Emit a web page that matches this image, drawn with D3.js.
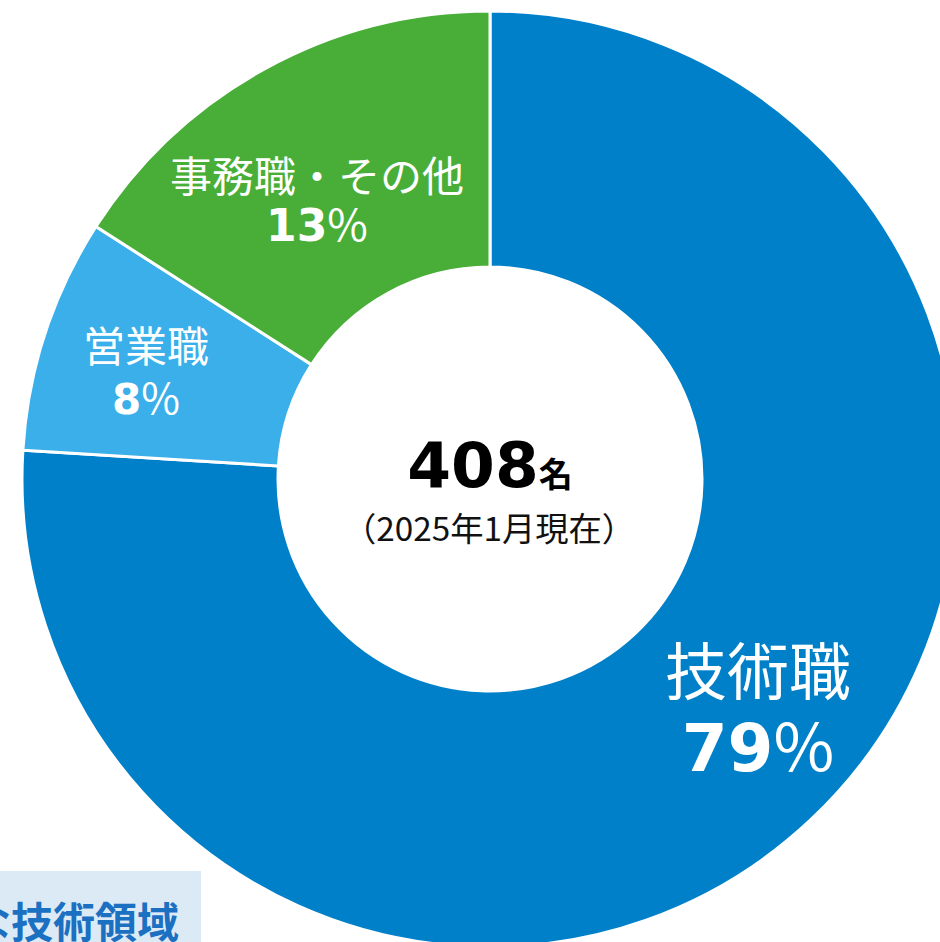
<!DOCTYPE html>
<html>
<head>
<meta charset="utf-8">
<script src="https://cdn.jsdelivr.net/npm/d3@7"></script>
<style>
  html, body { margin: 0; padding: 0; background: #fff; overflow: hidden; }
  svg { display: block; }
</style>
</head>
<body>
<svg id="chart" width="940" height="942"></svg>
<script>
// ---- data ----
const categories = ["技術職", "営業職", "事務職・その他"];
const counts = [310, 33, 65];
const percentLabels = ["79", "8", "13"];
const colors = ["#0080C9", "#3AAFE9", "#48AE37"];
const totalLabel = "408";
const totalUnit = "名";
const dateLabel = "（2025年1月現在）";
const footerLabel = "主な技術領域";

// ---- layout ----
const W = 940, H = 942;
const cx = 490, cy = 479;
const outerR = 468, innerR = 212;
const jp = "'Noto Sans CJK JP', 'Noto Sans', sans-serif";
const num = "'DejaVu Sans', Verdana, sans-serif";

const svg = d3.select("#chart");
const g = svg.append("g").attr("transform", `translate(${cx},${cy})`);

const pie = d3.pie().sort(null).value(d => d.v);
const arc = d3.arc().innerRadius(innerR).outerRadius(outerR);
const data = categories.map((c, i) => ({ c, v: counts[i], p: percentLabels[i], col: colors[i] }));
const arcs = pie(data);

g.selectAll("path.slice")
  .data(arcs)
  .join("path")
  .attr("class", "slice")
  .attr("d", arc)
  .attr("fill", d => d.data.col)
  .attr("stroke", "#fff")
  .attr("stroke-width", 3)
  .attr("stroke-linejoin", "miter");

// label placement (absolute page coords) per slice
const labelPos = [
  { x: 758, y1: 695, y2: 771, nameSize: 62, pctSize: 66 },
  { x: 146, y1: 362, y2: 414, nameSize: 42, pctSize: 42 },
  { x: 317, y1: 192, y2: 241, nameSize: 42, pctSize: 44 }
];

const labels = svg.append("g");
arcs.forEach((a, i) => {
  const lp = labelPos[i];
  labels.append("text")
    .attr("x", lp.x).attr("y", lp.y1)
    .attr("text-anchor", "middle")
    .attr("font-family", jp)
    .attr("font-size", lp.nameSize)
    .attr("fill", "#fff")
    .text(a.data.c);
  const t = labels.append("text")
    .attr("x", lp.x).attr("y", lp.y2)
    .attr("text-anchor", "middle")
    .attr("fill", "#fff")
    .attr("font-family", num)
    .attr("font-size", lp.pctSize);
  t.append("tspan").attr("font-weight", "bold").text(a.data.p);
  t.append("tspan").attr("font-weight", "normal").attr("font-family", jp).text("%");
});

// center text
const ct = svg.append("text")
  .attr("x", cx).attr("y", 487)
  .attr("text-anchor", "middle")
  .attr("fill", "#000");
ct.append("tspan").attr("font-family", num).attr("font-weight", "bold").attr("font-size", 63).text(totalLabel);
ct.append("tspan").attr("font-family", jp).attr("font-weight", "bold").attr("font-size", 34).text(totalUnit);

svg.append("text")
  .attr("x", 343).attr("y", 541)
  .attr("textLength", 292)
  .attr("lengthAdjust", "spacingAndGlyphs")
  .attr("font-family", jp)
  .attr("font-size", 33)
  .attr("fill", "#111")
  .text(dateLabel);

// footer box
svg.append("rect")
  .attr("x", 0).attr("y", 871)
  .attr("width", 201).attr("height", H - 871)
  .attr("fill", "#DCEAF6");
svg.append("text")
  .attr("x", 179).attr("y", 938)
  .attr("text-anchor", "end")
  .attr("font-family", jp)
  .attr("font-weight", "bold")
  .attr("font-size", 42)
  .attr("fill", "#1C70C2")
  .text(footerLabel);
</script>
</body>
</html>
